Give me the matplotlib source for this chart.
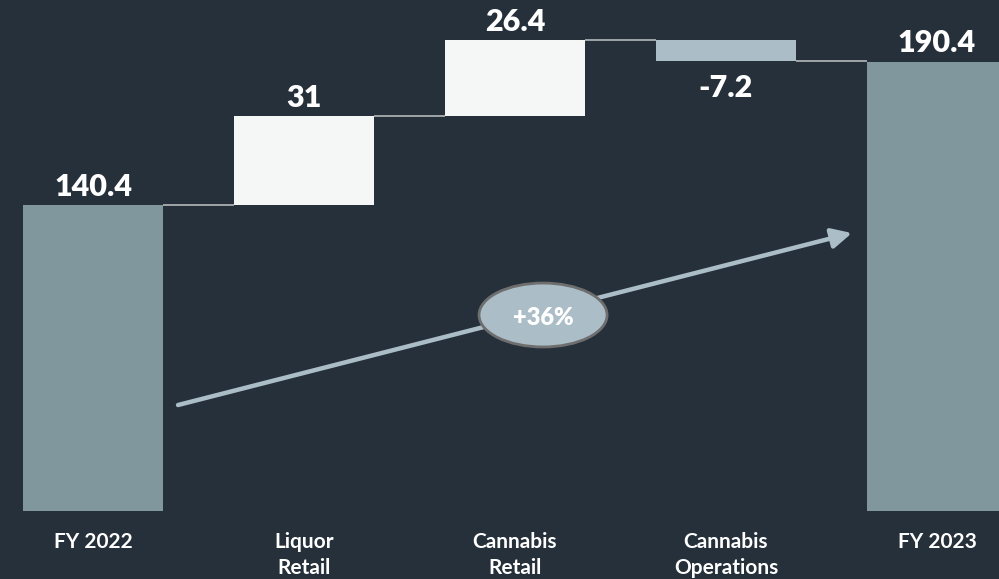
import matplotlib
matplotlib.use("Agg")
import matplotlib.pyplot as plt
from matplotlib.patches import Ellipse

categories = ["FY 2022", "Liquor\nRetail", "Cannabis\nRetail", "Cannabis\nOperations", "FY 2023"]
changes = [140.4, 31, 26.4, -7.2, 190.4]
value_labels = ["140.4", "31", "26.4", "-7.2", "190.4"]
growth_label = "+36%"

BASE = 33.7
BG = "#26303a"
TOTAL_COLOR = "#7f979d"
UP_COLOR = "#f5f7f7"
DOWN_COLOR = "#abbdc6"
LINE_COLOR = "#b4b8ba"
FONT = "Lato"

fig = plt.figure(figsize=(9.99, 5.79), dpi=100, facecolor=BG)
ax = fig.add_axes([0, 0, 1, 1])
ax.set_facecolor(BG)

# waterfall bottoms / tops
bottoms, tops = [], []
running = 0.0
for i, v in enumerate(changes):
    if i == 0 or i == len(changes) - 1:
        bottoms.append(BASE)
        tops.append(v)
        running = v
    else:
        start = running
        running = running + v
        bottoms.append(min(start, running))
        tops.append(max(start, running))

width = 0.6635
for i, v in enumerate(changes):
    if i == 0 or i == len(changes) - 1:
        color = TOTAL_COLOR
    elif v >= 0:
        color = UP_COLOR
    else:
        color = DOWN_COLOR
    ax.bar(i, tops[i] - bottoms[i], bottom=bottoms[i], width=width,
           color=color, edgecolor="none")

# connector lines
level = changes[0]
for i in range(len(changes) - 1):
    if 0 < i:
        level = level + changes[i]
    ax.plot([i + width / 2, i + 1 - width / 2], [level, level],
            color=LINE_COLOR, lw=1.2, solid_capstyle="butt")

# value labels
for i, v in enumerate(changes):
    if v < 0 and 0 < i < len(changes) - 1:
        ax.annotate(value_labels[i], (i, bottoms[i]), xytext=(0, -9),
                    textcoords="offset points", ha="center", va="top",
                    color="white", fontsize=22, fontweight="heavy", family=FONT)
    else:
        ax.annotate(value_labels[i], (i, tops[i]), xytext=(0, 3),
                    textcoords="offset points", ha="center", va="bottom",
                    color="white", fontsize=22, fontweight="heavy", family=FONT)

# category labels
for i, c in enumerate(categories):
    ax.text(i, 0.081, c, transform=ax.get_xaxis_transform(), ha="center", va="top",
            color="white", fontsize=15, fontweight="bold", family=FONT,
            linespacing=1.38)

# growth arrow
ax.annotate("", xy=(3.597, 130.6), xytext=(0.403, 70.6),
            arrowprops=dict(arrowstyle="-|>,head_length=1.2,head_width=0.6",
                            color=DOWN_COLOR, lw=3.2, shrinkA=0, shrinkB=0))
ax.add_patch(Ellipse((2.133, 102.0), 0.607, 22.3, facecolor=DOWN_COLOR,
                     edgecolor="#6e6e6e", lw=2, zorder=5))
ax.text(2.133, 101.0, growth_label, ha="center", va="center", color="white",
        fontsize=17, fontweight="heavy", family=FONT, zorder=6)

ax.set_xlim(-0.4408, 4.294)
ax.set_ylim(9.9, 211.9)
ax.axis("off")

fig.savefig("out.png", dpi=100, facecolor=BG)
